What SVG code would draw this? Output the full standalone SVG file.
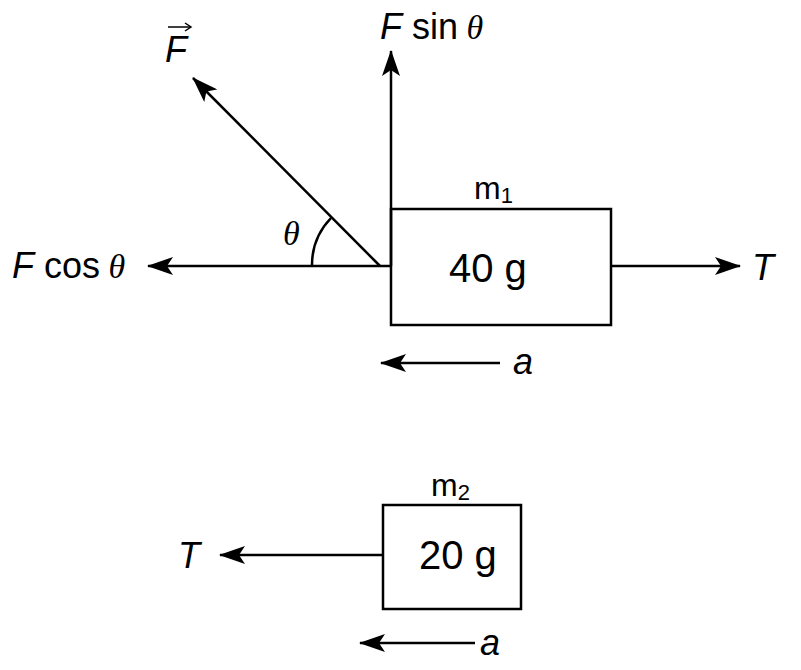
<svg xmlns="http://www.w3.org/2000/svg" width="801" height="670" viewBox="0 0 801 670">
<style>
.l{stroke:#000;stroke-width:2.5;fill:none}
.t{font-family:"Liberation Sans",Arial,sans-serif;font-size:36px;fill:#000}
.i{font-style:italic}
.g{font-family:"Liberation Serif",serif;font-style:italic;font-size:34px}
.n{font-size:40px}
.m{font-size:32px}
</style>
<defs><marker id="a" viewBox="0 0 26 18" refX="25" refY="9" markerWidth="26" markerHeight="18" markerUnits="userSpaceOnUse" orient="auto"><path d="M0,0L26,9L0,18L6,9Z" fill="#000"/></marker></defs>
<rect width="801" height="670" fill="#fff"/>
<g id="connectors">
<line class="l" x1="380" y1="266" x2="193" y2="78" marker-end="url(#a)"/>
<line class="l" x1="391" y1="266" x2="391" y2="51" marker-end="url(#a)"/>
<line class="l" x1="391" y1="266" x2="148" y2="266" marker-end="url(#a)"/>
<path class="l" d="M312,266A68,68 0 0 1 331,218" stroke-width="1.5"/>
<line class="l" x1="611" y1="266" x2="740" y2="266" marker-end="url(#a)"/>
<line class="l" x1="500" y1="363" x2="381" y2="363" stroke-width="2" marker-end="url(#a)"/>
<line class="l" x1="383" y1="555" x2="220" y2="555" marker-end="url(#a)"/>
<line class="l" x1="475" y1="643" x2="360" y2="643" stroke-width="2" marker-end="url(#a)"/>
</g>
<g id="m1"><rect class="l" x="391" y="209" width="220" height="116"/>
<text class="t n" x="449" y="282">40 g</text>
<text class="t m" x="474" y="199">m<tspan font-size="22" dy="4">1</tspan></text></g>
<g id="m2"><rect class="l" x="383" y="505" width="138" height="104"/>
<text class="t n" x="419" y="569">20 g</text>
<text class="t m" x="431" y="496">m<tspan font-size="22" dy="4">2</tspan></text></g>
<g id="labels">
<text class="t i" x="165" y="62">F</text>
<path d="M168,27H190" stroke="#000" stroke-width="1.5"/><path d="M185,23L191,27L185,31" fill="none" stroke="#000" stroke-width="1.5"/>
<text class="t" x="380" y="39"><tspan class="i">F</tspan> sin<tspan class="g"> θ</tspan></text>
<text class="t" x="12" y="278"><tspan class="i">F</tspan> cos<tspan class="g"> θ</tspan></text>
<text class="g" x="283" y="245">θ</text>
<text class="t i" x="752" y="280">T</text>
<text class="t i" x="513" y="374">a</text>
<text class="t i" x="178" y="568">T</text>
<text class="t i" x="480" y="655">a</text>
</g>
</svg>
